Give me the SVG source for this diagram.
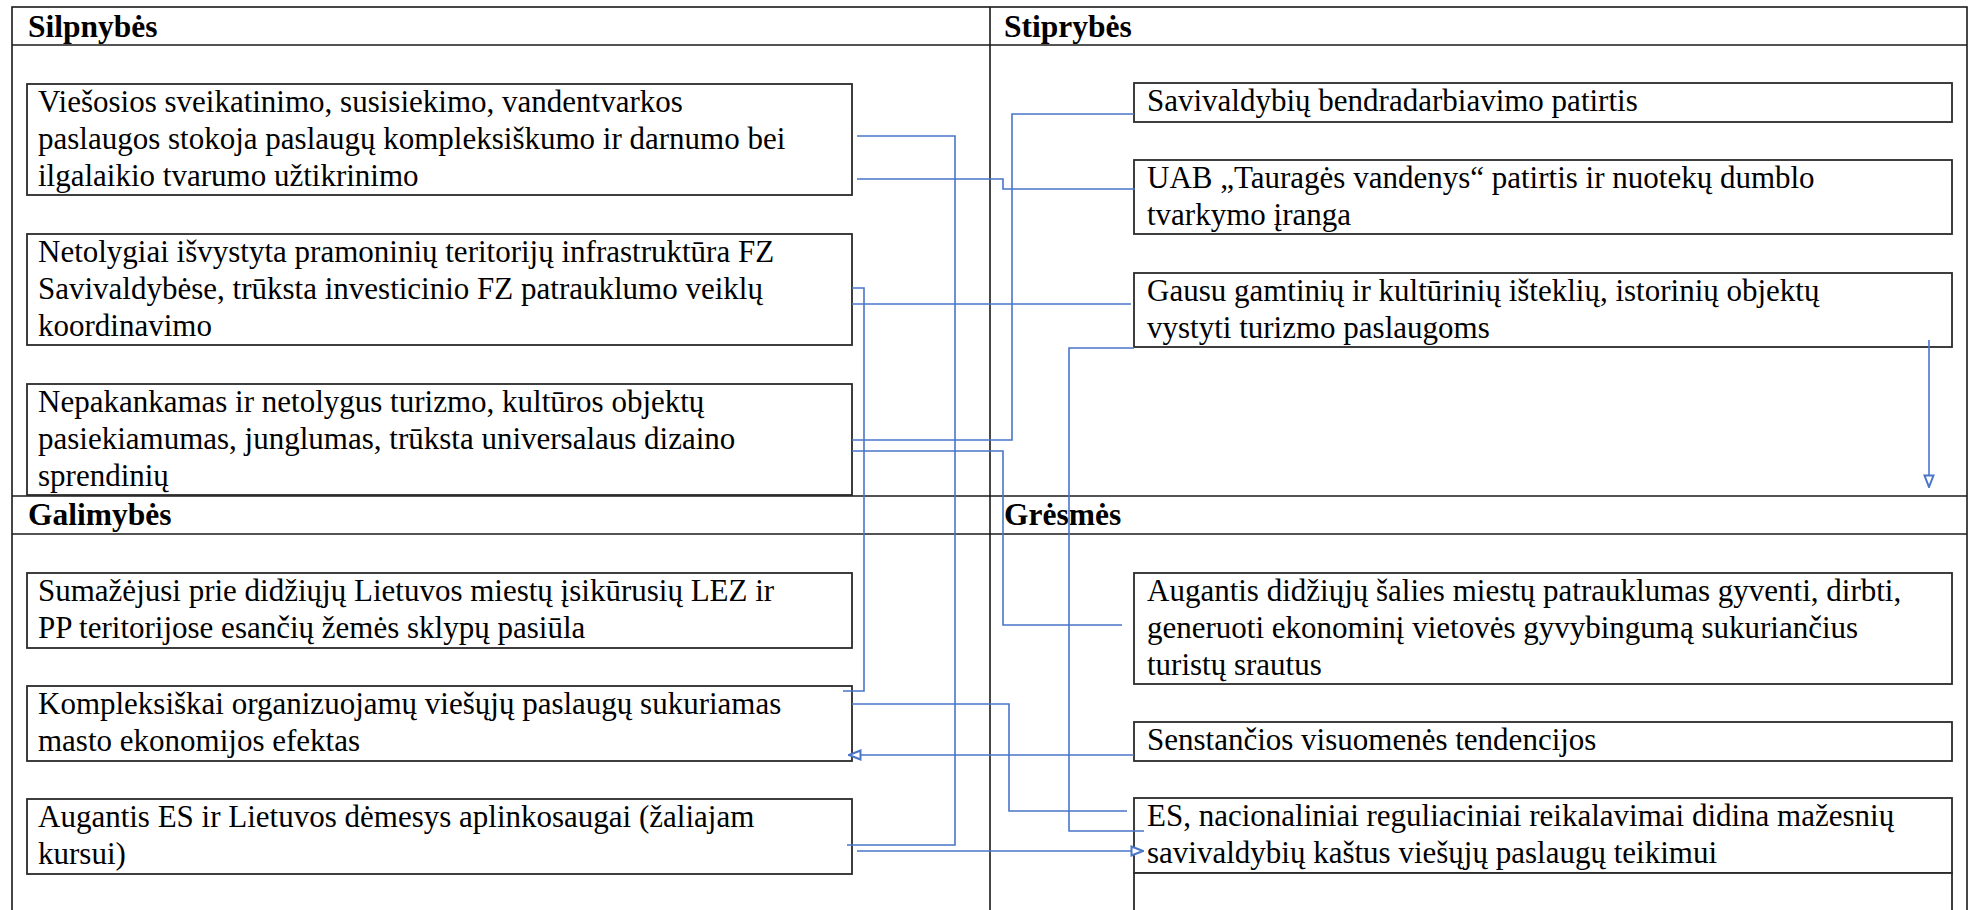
<svg xmlns="http://www.w3.org/2000/svg" width="1977" height="910" viewBox="0 0 1977 910">
<style>
  .tbl { fill: none; stroke: #1a1a1a; stroke-width: 1.6; }
  .box { fill: #ffffff; stroke: #2a2a2a; stroke-width: 1.8; }
  .t { font-family: 'Liberation Serif', 'DejaVu Serif', serif; font-size: 31px; fill: #000; }
  .h { font-family: 'Liberation Serif', 'DejaVu Serif', serif; font-size: 31.5px; font-weight: bold; fill: #000; }
  .c { fill: none; stroke: #4a76c8; stroke-width: 1.6; }
</style>
<defs>
  <marker id="arr" viewBox="0 0 14 12" refX="13" refY="6" markerWidth="14" markerHeight="12" markerUnits="userSpaceOnUse" orient="auto">
    <path d="M1.5,1.5 L13,6 L1.5,10.5 Z" fill="#ffffff" stroke="#4a76c8" stroke-width="2"/>
  </marker>
</defs>
<rect width="1977" height="910" fill="#ffffff"/>

<g id="table">
  <rect class="tbl" x="12" y="7" width="1955" height="960"/>
  <line class="tbl" x1="12" y1="45" x2="1967" y2="45"/>
  <line class="tbl" x1="12" y1="496" x2="1967" y2="496"/>
  <line class="tbl" x1="12" y1="534" x2="1967" y2="534"/>
  <line class="tbl" x1="990" y1="7" x2="990" y2="910"/>
  <text class="h" x="28" y="37">Silpnybės</text>
  <text class="h" x="1004" y="37">Stiprybės</text>
  <text class="h" x="28" y="525">Galimybės</text>
  <text class="h" x="1004" y="525">Grėsmės</text>
</g>

<g id="B1">
  <rect class="box" x="27" y="84" width="825" height="111"/>
  <text class="t" x="38" y="112">Viešosios sveikatinimo, susisiekimo, vandentvarkos</text>
  <text class="t" x="38" y="149">paslaugos stokoja paslaugų kompleksiškumo ir darnumo bei</text>
  <text class="t" x="38" y="186">ilgalaikio tvarumo užtikrinimo</text>
</g>
<g id="B2">
  <rect class="box" x="27" y="234" width="825" height="111"/>
  <text class="t" x="38" y="262">Netolygiai išvystyta pramoninių teritorijų infrastruktūra FZ</text>
  <text class="t" x="38" y="299">Savivaldybėse, trūksta investicinio FZ patrauklumo veiklų</text>
  <text class="t" x="38" y="336">koordinavimo</text>
</g>
<g id="B3">
  <rect class="box" x="27" y="384" width="825" height="111"/>
  <text class="t" x="38" y="412">Nepakankamas ir netolygus turizmo, kultūros objektų</text>
  <text class="t" x="38" y="449">pasiekiamumas, junglumas, trūksta universalaus dizaino</text>
  <text class="t" x="38" y="486">sprendinių</text>
</g>
<g id="B4">
  <rect class="box" x="27" y="573" width="825" height="75"/>
  <text class="t" x="38" y="601">Sumažėjusi prie didžiųjų Lietuvos miestų įsikūrusių LEZ ir</text>
  <text class="t" x="38" y="638">PP teritorijose esančių žemės sklypų pasiūla</text>
</g>
<g id="B5">
  <rect class="box" x="27" y="686" width="825" height="75"/>
  <text class="t" x="38" y="714">Kompleksiškai organizuojamų viešųjų paslaugų sukuriamas</text>
  <text class="t" x="38" y="751">masto ekonomijos efektas</text>
</g>
<g id="B6">
  <rect class="box" x="27" y="799" width="825" height="75"/>
  <text class="t" x="38" y="827">Augantis ES ir Lietuvos dėmesys aplinkosaugai (žaliajam</text>
  <text class="t" x="38" y="864">kursui)</text>
</g>

<g id="R1">
  <rect class="box" x="1134" y="83" width="818" height="39"/>
  <text class="t" x="1147" y="111">Savivaldybių bendradarbiavimo patirtis</text>
</g>
<g id="R2">
  <rect class="box" x="1134" y="160" width="818" height="74"/>
  <text class="t" x="1147" y="188">UAB „Tauragės vandenys“ patirtis ir nuotekų dumblo</text>
  <text class="t" x="1147" y="225">tvarkymo įranga</text>
</g>
<g id="R3">
  <rect class="box" x="1134" y="273" width="818" height="74"/>
  <text class="t" x="1147" y="301">Gausu gamtinių ir kultūrinių išteklių, istorinių objektų</text>
  <text class="t" x="1147" y="338">vystyti turizmo paslaugoms</text>
</g>
<g id="R4">
  <rect class="box" x="1134" y="573" width="818" height="111"/>
  <text class="t" x="1147" y="601">Augantis didžiųjų šalies miestų patrauklumas gyventi, dirbti,</text>
  <text class="t" x="1147" y="638">generuoti ekonominį vietovės gyvybingumą sukuriančius</text>
  <text class="t" x="1147" y="675">turistų srautus</text>
</g>
<g id="R5">
  <rect class="box" x="1134" y="722" width="818" height="39"/>
  <text class="t" x="1147" y="750">Senstančios visuomenės tendencijos</text>
</g>
<g id="R6">
  <rect class="box" x="1134" y="798" width="818" height="75"/>
  <text class="t" x="1147" y="826">ES, nacionaliniai reguliaciniai reikalavimai didina mažesnių</text>
  <text class="t" x="1147" y="863">savivaldybių kaštus viešųjų paslaugų teikimui</text>
</g>
<g id="R7">
  <rect class="box" x="1134" y="873" width="818" height="60"/>
</g>

<g id="connectors">
  <path class="c" d="M857,136 H955 V845 H847"/>
  <path class="c" d="M857,179 H1003 V189 H1135"/>
  <path class="c" d="M1134,114 H1012 V440 H852"/>
  <path class="c" d="M852,451 H1003 V625 H1122"/>
  <path class="c" d="M852,288 H864 V691 H843"/>
  <path class="c" d="M852,304 H1131"/>
  <path class="c" d="M1134,348 H1069 V831 H1144"/>
  <path class="c" d="M852,704 H1009 V811 H1127"/>
  <path class="c" d="M1134,755 H849" marker-end="url(#arr)"/>
  <path class="c" d="M857,851 H1143" marker-end="url(#arr)"/>
  <path class="c" d="M1929,340 V487" marker-end="url(#arr)"/>
</g>
</svg>
